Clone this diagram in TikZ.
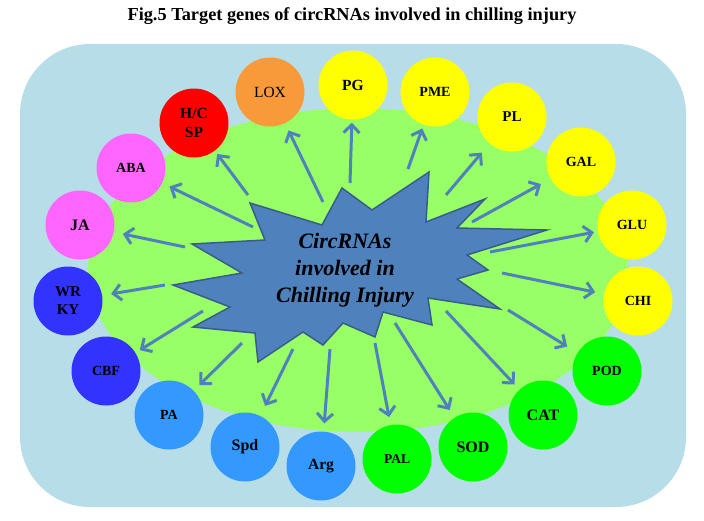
\documentclass[tikz,border=0pt]{standalone}
\usepackage{fontspec}
\setmainfont{Liberation Serif}
\usetikzlibrary{arrows.meta}

\begin{document}
\begin{tikzpicture}[x=1pt,y=-1pt]
  % Define colors
  \definecolor{bgcolor}{HTML}{B7DDE8}
  \definecolor{fieldcolor}{HTML}{99FF66}
  \definecolor{starcolor}{HTML}{4F81BD}
  \definecolor{staredge}{HTML}{385D8A}
  \definecolor{loxcolor}{HTML}{F89A3A}
  \definecolor{yelcolor}{HTML}{FFFF00}
  \definecolor{redcolor}{HTML}{FF0000}
  \definecolor{pinkcolor}{HTML}{FF66FF}
  \definecolor{bluecolor}{HTML}{3333FF}
  \definecolor{skycolor}{HTML}{3399FF}
  \definecolor{grncolor}{HTML}{00FF00}

  \tikzset{
    gene/.style={circle, minimum size=69pt, inner sep=0pt, align=center,
      font=\fontsize{14}{18}\selectfont\bfseries},
    target/.style={-{Straight Barb[length=8pt,width=16pt]}, line width=3pt, starcolor},
  }

  \useasboundingbox (0,0) rectangle (704,520);

  % Title
  \node (title) at (352,16) {\fontsize{18.3}{20}\selectfont\bfseries Fig.5 Target genes of circRNAs involved in chilling injury};

  % Background and field
  \fill[bgcolor, rounded corners=70pt] (20,44) rectangle (686,507);
  \fill[fieldcolor] (358,270) ellipse (270 and 162);

  % Gene circles
  \node[gene, fill=loxcolor, font=\fontsize{15.5}{18}\selectfont] (lox) at (270,92) {LOX};
  \node[gene, fill=yelcolor, font=\fontsize{15.5}{18}\selectfont\bfseries] (pg) at (353,85) {PG};
  \node[gene, fill=yelcolor] (pme) at (435,92) {PME};
  \node[gene, fill=yelcolor, font=\fontsize{15}{18}\selectfont\bfseries] (pl) at (512,117) {PL};
  \node[gene, fill=yelcolor] (gal) at (581,162) {GAL};
  \node[gene, fill=yelcolor] (glu) at (632,225) {GLU};
  \node[gene, fill=yelcolor] (chi) at (638,301) {CHI};
  \node[gene, fill=grncolor] (pod) at (607,371) {POD};
  \node[gene, fill=grncolor, font=\fontsize{16}{18}\selectfont\bfseries] (cat) at (543,415) {CAT};
  \node[gene, fill=grncolor, font=\fontsize{16}{18}\selectfont\bfseries] (sod) at (473,447) {SOD};
  \node[gene, fill=grncolor, font=\fontsize{13.5}{18}\selectfont\bfseries] (pal) at (397,459) {PAL};
  \node[gene, fill=skycolor, font=\fontsize{15.5}{18}\selectfont\bfseries] (arg) at (321,466) {Arg};
  \node[gene, fill=skycolor, font=\fontsize{16}{18}\selectfont\bfseries] (spd) at (245,447) {Spd};
  \node[gene, fill=skycolor] (pa) at (169,415) {PA};
  \node[gene, fill=bluecolor] (cbf) at (106,371) {CBF};
  \node[gene, fill=bluecolor, font=\fontsize{15}{18}\selectfont\bfseries] (wrky) at (68,301) {WR\\KY};
  \node[gene, fill=pinkcolor, font=\fontsize{16}{18}\selectfont\bfseries] (ja) at (80,225) {JA};
  \node[gene, fill=pinkcolor] (aba) at (131,168) {ABA};
  \node[gene, fill=redcolor, font=\fontsize{15.5}{19}\selectfont\bfseries] (hcsp) at (194,123) {H/C\\SP};

  % Arrow starts
  \coordinate (lox-s) at (323,202);
  \coordinate (pg-s) at (350,183);
  \coordinate (pme-s) at (408,169);
  \coordinate (pl-s) at (446,195);
  \coordinate (gal-s) at (472,222);
  \coordinate (glu-s) at (490,252);
  \coordinate (chi-s) at (502,273);
  \coordinate (pod-s) at (508,310);
  \coordinate (cat-s) at (446,311);
  \coordinate (sod-s) at (395,323);
  \coordinate (pal-s) at (375,343);
  \coordinate (arg-s) at (330,349);
  \coordinate (spd-s) at (293,349);
  \coordinate (pa-s) at (242,343);
  \coordinate (cbf-s) at (203,311);
  \coordinate (wrky-s) at (165,285);
  \coordinate (ja-s) at (185,247);
  \coordinate (aba-s) at (253,227);
  \coordinate (hcsp-s) at (248,195);

  % Arrows to the targets
  \foreach \t/\g in {lox/8, pg/3, pme/4, pl/12, gal/11, glu/4, chi/9, pod/12, cat/7,
      sod/9, pal/8, arg/8, spd/11, pa/8, cbf/5, wrky/9, ja/9, aba/8, hcsp/4} {
    \draw[target, shorten >=\g pt] (\t-s) -- (\t);
  }

  % Star
  \filldraw[starcolor, draw=staredge, line width=1.5pt, line join=miter]
    (250,203) -- (322,225) -- (342,188) -- (372,210) -- (429,172) -- (426,222)
    -- (485,199) -- (457,228) -- (547,230) -- (467,255) -- (488,270) -- (457,279)
    -- (500,309) -- (428,298) -- (432,325) -- (383,312) -- (375,337) -- (343,323)
    -- (323,345) -- (303,332) -- (258,362) -- (255,333) -- (193,327) -- (230,307)
    -- (173,285) -- (242,273) -- (192,244) -- (265,240) -- cycle;
  \node[align=center, font=\fontsize{22}{27}\selectfont\bfseries\itshape] (core) at (345,270)
    {CircRNAs\\involved in\\Chilling Injury};
\end{tikzpicture}
\end{document}
